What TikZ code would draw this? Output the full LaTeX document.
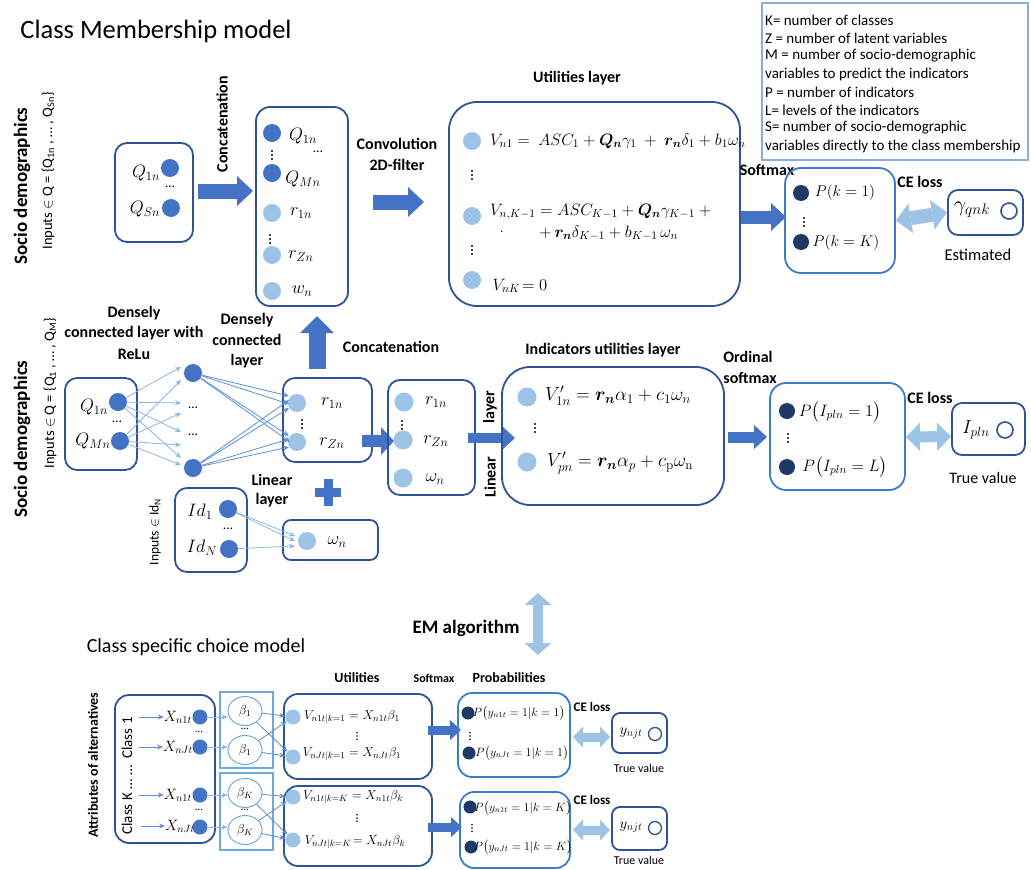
\RequirePackage{fix-cm}
\documentclass[tikz,border=0pt]{standalone}
\usepackage{amsmath}
\usepackage{bm}
\usepackage[no-math]{fontspec}
\setmainfont{Carlito}
\usetikzlibrary{arrows.meta,shapes.geometric}
\definecolor{boxc}{HTML}{2F5496}
\definecolor{probc}{HTML}{3D7CC9}
\definecolor{blockc}{HTML}{4472C4}
\definecolor{dotdark}{HTML}{4472C4}
\definecolor{dotlight}{HTML}{9DC3E6}
\definecolor{dotnavy}{HTML}{1F3864}
\definecolor{dblc}{HTML}{9DC3E6}
\definecolor{legc}{HTML}{8FAADC}
\definecolor{betac}{HTML}{6FA8DC}
\definecolor{lightarr}{HTML}{8DB6E2}
\definecolor{medarr}{HTML}{5B8FD6}
\newcommand{\fsz}[1]{\fontsize{#1}{#1}\selectfont}
\begin{document}
\begin{tikzpicture}[x=1pt,y=-1pt,
 box/.style={draw=boxc,line width=1.8pt,rounded corners=12pt,inner sep=0pt},
 bigbox/.style={box,rounded corners=28pt},
 pbox/.style={draw=probc,line width=1.8pt,rounded corners=16pt,inner sep=0pt},
 ddot/.style={circle,fill=dotdark,minimum size=18pt,inner sep=0pt},
 ldot/.style={circle,fill=dotlight,minimum size=18pt,inner sep=0pt},
 ndot/.style={circle,fill=dotnavy,minimum size=16pt,inner sep=0pt},
 odot/.style={circle,draw=boxc,line width=1.6pt,fill=white,minimum size=16pt,inner sep=0pt},
 mlab/.style={inner sep=0pt,font=\fsz{18}},
 lab/.style={inner sep=0pt,font=\fsz{16}\bfseries,align=center},
 txt/.style={inner sep=0pt,font=\fsz{13.5}},
 legt/.style={inner sep=0pt,font=\fsz{15},anchor=west},
 blk/.style n args={3}{draw=blockc,line width=#1,-{Triangle[length=#2,width=#3,line width=0pt]}},
 dbl/.style n args={3}{draw=dblc,line width=#1,{Triangle[length=#2,width=#3,line width=0pt]}-{Triangle[length=#2,width=#3,line width=0pt]}},
 thinl/.style={draw=lightarr,line width=0.8pt,-{Stealth[length=6pt,width=5pt]}},
 thinm/.style={draw=medarr,line width=0.8pt,-{Stealth[length=6pt,width=5pt]}},
 vdts/.pic={\fill (0,-4) circle (1.1pt) (0,0) circle (1.1pt) (0,4) circle (1.1pt);}
]
\useasboundingbox[fill=white] (0,0) rectangle (1031,870);

% ---------------- title and legend
\node[inner sep=0pt,font=\fsz{26.5}] (title) at (156,31) {Class Membership model};
\node[draw=legc,line width=1.5pt,minimum width=266pt,minimum height=157pt,inner sep=0pt] (leg) at (895,81.5) {};
\node[legt] at (765,20) {K= number of classes};
\node[legt] at (765,38) {Z = number of latent variables};
\node[legt] at (765,56) {M = number of socio-demographic};
\node[legt] at (765,74) {variables to predict the indicators};
\node[legt] at (765,92) {P = number of indicators};
\node[legt] at (765,110) {L= levels of the indicators};
\node[legt] at (765,128) {S= number of socio-demographic};
\node[legt] at (765,146) {variables directly to the class membership};

% ---------------- row 1
\node[lab,rotate=90,font=\fsz{19}\bfseries] at (22,186) {Socio demographics};
\node[txt,rotate=90,font=\fsz{14.5}] at (48,171) {Inputs $\in$ Q = \{Q\textsubscript{1n} ,\ … ,\ Q\textsubscript{Sn}\}};
\node[box,minimum width=78pt,minimum height=99pt] (qbox) at (154,192.5) {};
\node[mlab] (q1t) at (146,173) {$Q_{1n}$};
\node[ddot] (q1d) at (170,168) {};
\node[txt] at (170,187) {…};
\node[mlab] (qst) at (145,209) {$Q_{Sn}$};
\node[ddot] (qsd) at (171,208) {};
\node[lab,rotate=90] at (222,124) {Concatenation};
\coordinate (a1s) at (198,191);
\coordinate (a1e) at (253,191);
\draw[blk={15pt}{16pt}{30pt}] (a1s) -- (a1e);

\node[box,minimum width=92pt,minimum height=199pt,rounded corners=14pt] (cbox) at (302,206.5) {};
\node[ddot] (c1) at (272,133) {};
\node[mlab] at (303,136) {$Q_{1n}$};
\node[txt] at (318,152) {…};
\pic at (272,155) {vdts};
\node[ddot] (c2) at (272,173) {};
\node[mlab] at (303,179) {$Q_{Mn}$};
\node[ldot] (c3) at (272,213) {};
\node[mlab] at (301,213) {$r_{1n}$};
\pic at (270,239) {vdts};
\node[ldot] (c4) at (272,255) {};
\node[mlab] at (301,256) {$r_{Zn}$};
\node[ldot] (c5) at (272,291) {};
\node[mlab] at (302,291) {$w_n$};

\node[lab] at (397,144) {Convolution};
\node[lab] at (397,165) {2D-filter};
\coordinate (a2s) at (373,202);
\coordinate (a2e) at (424,202);
\draw[blk={15pt}{16pt}{30pt}] (a2s) -- (a2e);

\node[lab] at (577,78) {Utilities layer};
\node[bigbox,minimum width=291pt,minimum height=204pt] (ubox) at (594.5,204) {};
\node[ldot] (u1) at (472,141) {};
\node[mlab,anchor=west,font=\fsz{16.5}] at (490,141) {$V_{n1} =\ ASC_1 + \bm{Q_n}\gamma_1\ +\ \bm{r_n}\delta_1 + b_1\omega_n$};
\pic at (472,175) {vdts};
\node[ldot] (u2) at (472,216) {};
\node[mlab,anchor=west,font=\fsz{16.5}] at (490,212) {$V_{n,K-1} = ASC_{K-1} + \bm{Q_n}\gamma_{K-1}\ +$};
\node[mlab,font=\fsz{12}] at (502,232) {.};
\node[mlab,anchor=west,font=\fsz{16.5}] at (539,233) {$+\,\bm{r_n}\delta_{K-1} + b_{K-1}\,\omega_n$};
\pic at (472,250) {vdts};
\node[ldot] (u3) at (472,280) {};
\node[mlab,font=\fsz{16.5}] at (520,286) {$V_{nK}\!= 0$};

\node[lab] at (767,170) {Softmax};
\coordinate (a3s) at (741,217);
\coordinate (a3e) at (786,217);
\draw[blk={13pt}{15pt}{28pt}] (a3s) -- (a3e);
\node[pbox,minimum width=110pt,minimum height=105pt] (pbox1) at (840,220.5) {};
\node[ndot] (p1) at (801,193) {};
\node[mlab,font=\fsz{15.5}] at (845,193) {$P(k = 1)$};
\pic at (804,222) {vdts};
\node[ndot] (p2) at (801,242) {};
\node[mlab,font=\fsz{15.5}] at (846,243) {$P(k = K)$};
\node[lab] at (920,182) {CE loss};
\node[box,minimum width=75pt,minimum height=45pt,rounded corners=10pt] (ebox) at (985.5,212.5) {};
\draw[dbl={14pt}{15pt}{30pt}] (pbox1.east) -- (ebox.west);
\node[mlab,font=\fsz{22}] at (972,210) {$\gamma_{qnk}$};
\node[odot] (eo) at (1009,211) {};
\node[inner sep=0pt,font=\fsz{16.5}] at (978,255) {Estimated};

% ---------------- row 2
\node[lab,rotate=90,font=\fsz{19}\bfseries] at (22,439) {Socio demographics};
\node[txt,rotate=90,font=\fsz{14.5}] at (50,393) {Inputs $\in$ Q = \{Q\textsubscript{1} ,\ … ,\ Q\textsubscript{M}\}};
\node[lab] at (134,313) {Densely};
\node[lab] at (134,333) {connected layer with};
\node[lab] at (134,354) {ReLu};
\node[lab] at (247,320) {Densely};
\node[lab] at (247,340) {connected};
\node[lab] at (247,361) {layer};

\node[box,minimum width=72pt,minimum height=92pt] (q2box) at (101,424) {};
\node[mlab] at (94,407) {$Q_{1n}$};
\node[ddot] (q21d) at (118,402) {};
\node[txt] at (117,422) {…};
\node[mlab] at (93,441) {$Q_{Mn}$};
\node[ddot] (q2md) at (120,441) {};

\node[ddot] (h1) at (193,373) {};
\node[txt] (h2) at (193,408) {…};
\node[txt] (h3) at (193,435) {…};
\node[ddot] (h4) at (193,468) {};

\coordinate (t1) at (181,367);
\coordinate (t2) at (181,380);
\coordinate (t3) at (181,403);
\coordinate (t4) at (181,413);
\coordinate (t5) at (181,432);
\coordinate (t6) at (181,445);
\coordinate (t7) at (181,458);
\coordinate (t8) at (181,465);
\draw[thinl] (q21d) -- (t1);
\draw[thinl] (q21d) -- (t3);
\draw[thinl] (q21d) -- (t5);
\draw[thinl] (q21d) -- (t7);
\draw[thinl] (q2md) -- (t2);
\draw[thinl] (q2md) -- (t4);
\draw[thinl] (q2md) -- (t6);
\draw[thinl] (q2md) -- (t8);

\node[box,minimum width=89pt,minimum height=84pt] (rbox) at (327.5,420) {};
\node[ldot] (r1d) at (297,403) {};
\node[mlab] at (332,403) {$r_{1n}$};
\pic at (302,424) {vdts};
\node[ldot] (rzd) at (297,442) {};
\node[mlab] at (332,443) {$r_{Zn}$};

\coordinate (s1) at (289,396);
\coordinate (s2) at (289,404);
\coordinate (s3) at (289,436);
\coordinate (s4) at (290,442);
\coordinate (s5) at (289,400);
\coordinate (s6) at (289,408);
\coordinate (s7) at (289,439);
\coordinate (s8) at (289,447);
\draw[thinm] (h1) -- (s1);
\draw[thinm] (h1) -- (s2);
\draw[thinm] (h1) -- (s3);
\draw[thinm] (h1) -- (s4);
\draw[thinm] (h4) -- (s5);
\draw[thinm] (h4) -- (s6);
\draw[thinm] (h4) -- (s7);
\draw[thinm] (h4) -- (s8);

\coordinate (a5s) at (317,369);
\coordinate (a5e) at (317,316);
\draw[blk={17pt}{17pt}{34pt}] (a5s) -- (a5e);
\node[lab] at (391,347) {Concatenation};
\fill[blockc] (315,488) rectangle (341,497);
\fill[blockc] (323.5,479) rectangle (332.5,506);
\node[lab] at (272,480) {Linear};
\node[lab] at (272,500) {layer};

\node[txt,rotate=90] at (155,532) {Inputs $\in$ Id\textsubscript{N}};
\node[box,minimum width=72pt,minimum height=84pt] (idbox) at (211,530) {};
\node[mlab] at (200,512) {$Id_1$};
\node[ddot] (id1d) at (228,509) {};
\node[txt] at (228,529) {…};
\node[mlab] at (202,548) {$Id_N$};
\node[ddot] (idnd) at (229,549) {};

\node[box,minimum width=95pt,minimum height=40pt,rounded corners=8pt] (wbox) at (330.5,540) {};
\node[ldot] (wd) at (307,541) {};
\node[mlab] at (337,542) {$\omega_n$};
\coordinate (w1) at (295,536);
\coordinate (w2) at (295,541);
\coordinate (w3) at (295,546);
\draw[thinl] (id1d) -- (w1);
\draw[thinl] (id1d) -- (w2);
\draw[thinl] (idnd) -- (w3);

\coordinate (a6s) at (362,441);
\coordinate (a6e) at (394,441);
\draw[blk={12pt}{13pt}{28pt}] (a6s) -- (a6e);

\node[box,minimum width=87pt,minimum height=115pt] (c2box) at (431.5,437.5) {};
\node[ldot,minimum size=19pt] (c2r1) at (404,402) {};
\node[mlab] at (436,402) {$r_{1n}$};
\pic at (402,425) {vdts};
\node[ldot,minimum size=19pt] (c2rz) at (403,440) {};
\node[mlab] at (436,441) {$r_{Zn}$};
\node[ldot,minimum size=19pt] (c2w) at (403,478) {};
\node[mlab] at (435,479) {$\omega_n$};

\node[lab,rotate=90] at (490,407) {layer};
\node[lab,rotate=90] at (490,477) {Linear};
\coordinate (a7s) at (468,438);
\coordinate (a7e) at (515,438);
\draw[blk={10pt}{12pt}{22pt}] (a7s) -- (a7e);

\node[lab] at (603,350) {Indicators utilities layer};
\node[bigbox,minimum width=222pt,minimum height=138pt] (ibox) at (613,436) {};
\node[ldot,minimum size=19pt] (i1d) at (527,397) {};
\node[mlab,anchor=west,font=\fsz{19}] at (545,396) {$V'_{1n} = \bm{r_n}\alpha_1 + c_1\omega_n$};
\pic at (535,428) {vdts};
\node[ldot,minimum size=19pt] (i2d) at (527,462) {};
\node[mlab,anchor=west,font=\fsz{19}] at (547,463) {$V'_{pn} = \bm{r_n}\alpha_p + c_{\mathrm{p}}\omega_{\mathrm{n}}$};

\node[lab] at (748,357) {Ordinal};
\node[lab] at (750,378) {softmax};
\coordinate (a8s) at (728,437);
\coordinate (a8e) at (767,437);
\draw[blk={11pt}{13pt}{24pt}] (a8s) -- (a8e);
\node[pbox,minimum width=135pt,minimum height=107pt] (pbox2) at (837.5,436.5) {};
\node[ndot] (pp1) at (787,411) {};
\node[mlab,font=\fsz{16.5}] at (840,412) {$P\big(I_{pln} = 1\big)$};
\pic at (788,438) {vdts};
\node[ndot] (pp2) at (787,467) {};
\node[mlab,font=\fsz{16.5}] at (845,467) {$P\big(I_{pln} = L\big)$};
\node[lab] at (930,398) {CE loss};
\node[box,minimum width=73pt,minimum height=52pt,rounded corners=10pt] (tbox) at (988.5,429) {};
\draw[dbl={11pt}{14pt}{28pt}] ([yshift=-0.5pt]pbox2.east) -- (tbox.west |- pbox2.east);
\node[mlab,font=\fsz{19}] at (976,430) {$I_{pln}$};
\node[odot] (to) at (1005,430) {};
\node[inner sep=0pt,font=\fsz{16}] at (983,478) {True value};

% ---------------- EM
\node[lab,font=\fsz{19}\bfseries] at (466,628) {EM algorithm};
\coordinate (emt) at (538,593);
\coordinate (emb) at (538,655);
\draw[dbl={10pt}{12pt}{27pt}] (emt) -- (emb);

% ---------------- bottom
\node[inner sep=0pt,font=\fsz{20}] at (196,647) {Class specific choice model};
\node[lab,rotate=90,font=\fsz{14}\bfseries] at (93,765) {Attributes of alternatives};
\node[box,minimum width=100pt,minimum height=148pt,rounded corners=14pt] (xbox) at (165,769) {};
\node[inner sep=0pt,rotate=90,font=\fsz{15}] at (127,738) {Class 1};
\node[inner sep=0pt,rotate=90,font=\fsz{15}] at (127,800) {Class K … …};

\node[mlab,font=\fsz{15}] (x1t) at (178,717) {$X_{n1t}$};
\node[mlab,font=\fsz{15}] (x2t) at (178,747) {$X_{nJt}$};
\node[mlab,font=\fsz{15}] (x3t) at (178,795) {$X_{n1t}$};
\node[mlab,font=\fsz{15}] (x4t) at (180,826) {$X_{nJt}$};
\coordinate (xs1) at (139,717);
\coordinate (xs2) at (139,747);
\coordinate (xs3) at (139,795);
\coordinate (xs4) at (141,826);
\draw[thinm] (xs1) -- (x1t.west);
\draw[thinm] (xs2) -- (x2t.west);
\draw[thinm] (xs3) -- (x3t.west);
\draw[thinm] (xs4) -- (x4t.west);
\node[ddot,minimum size=15pt] (xd1) at (200,717) {};
\node[ddot,minimum size=15pt] (xd2) at (200,747) {};
\node[ddot,minimum size=15pt] (xd3) at (200,795) {};
\node[ddot,minimum size=15pt] (xd4) at (200,827) {};
\node[txt,font=\fsz{11}] at (199,732) {…};
\node[txt,font=\fsz{11}] at (199,810) {…};

\node[draw=betac,line width=1.5pt,minimum width=53pt,minimum height=76pt,inner sep=0pt] (bb1) at (246.5,730) {};
\node[draw=betac,line width=1.5pt,minimum width=53pt,minimum height=77pt,inner sep=0pt] (bb2) at (246.5,811.5) {};
\node[ellipse,draw=betac,line width=1pt,minimum width=34pt,minimum height=29pt,inner sep=0pt,font=\fsz{13}] (b1a) at (245,711) {$\beta_1$};
\node[ellipse,draw=betac,line width=1pt,minimum width=34pt,minimum height=29pt,inner sep=0pt,font=\fsz{13}] (b1b) at (245,750) {$\beta_1$};
\node[ellipse,draw=betac,line width=1pt,minimum width=34pt,minimum height=29pt,inner sep=0pt,font=\fsz{13}] (bka) at (245,793) {$\beta_K$};
\node[ellipse,draw=betac,line width=1pt,minimum width=34pt,minimum height=29pt,inner sep=0pt,font=\fsz{13}] (bkb) at (245,830) {$\beta_K$};
\node[txt,font=\fsz{11}] at (245,729) {…};
\node[txt,font=\fsz{11}] at (245,810) {…};
\draw[thinl] (xd1) -- (b1a.west |- xd1);
\draw[thinl] (xd2) -- (b1b.west |- xd2);
\draw[thinl] (xd3) -- (bka.west |- xd3);
\draw[thinl] (xd4) -- (bkb.west |- xd4);

\node[lab,font=\fsz{14}\bfseries] at (357,678) {Utilities};
\node[lab,font=\fsz{12}\bfseries] at (434,678) {Softmax};
\node[lab,font=\fsz{14}\bfseries] at (509,678) {Probabilities};

\node[box,minimum width=148pt,minimum height=85pt,rounded corners=14pt] (ub1) at (358,736.5) {};
\node[ldot,minimum size=15pt] (v1d) at (293,717) {};
\node[ldot,minimum size=15pt] (v2d) at (293,757) {};
\node[mlab,font=\fsz{13}] at (352,717) {$V_{n1t|k=1} = X_{n1t}\beta_1$};
\pic[scale=0.8] at (357,736) {vdts};
\node[mlab,font=\fsz{13}] at (352,754) {$V_{nJt|k=1} = X_{nJt}\beta_1$};
\node[box,minimum width=148pt,minimum height=80pt,rounded corners=14pt] (ub2) at (358,826) {};
\node[ldot,minimum size=15pt] (v3d) at (293,797) {};
\node[ldot,minimum size=15pt] (v4d) at (293,840) {};
\node[mlab,font=\fsz{13}] at (353,797) {$V_{n1t|k=K} = X_{n1t}\beta_k$};
\pic[scale=0.8] at (357,818) {vdts};
\node[mlab,font=\fsz{13}] at (355,842) {$V_{nJt|k=K}\!= X_{nJt}\beta_k$};

\draw[thinm] (b1a) -- (v1d);
\draw[thinm] (b1a) -- (v2d);
\draw[thinm] (b1b) -- (v1d);
\draw[thinm] (b1b) -- (v2d);
\draw[thinm] (bka) -- (v3d);
\draw[thinm] (bka) -- (v4d);
\draw[thinm] (bkb) -- (v3d);
\draw[thinm] (bkb) -- (v4d);

\coordinate (a9s) at (428,730);
\coordinate (a9e) at (461,730);
\draw[blk={9pt}{11pt}{20pt}] (a9s) -- (a9e);
\coordinate (a10s) at (428,827);
\coordinate (a10e) at (462,827);
\draw[blk={9pt}{11pt}{20pt}] (a10s) -- (a10e);

\node[pbox,minimum width=112pt,minimum height=84pt,rounded corners=14pt] (pb1) at (514,735) {};
\node[ndot,minimum size=13pt] (pb1a) at (468,713) {};
\node[mlab,font=\fsz{12}] at (519,713) {$P\big(y_{n1t} = 1|k = 1\big)$};
\pic[scale=0.8] at (470,736) {vdts};
\node[ndot,minimum size=13pt] (pb1b) at (469,753) {};
\node[mlab,font=\fsz{12}] at (522,753) {$P\big(y_{nJt} = 1|k = 1\big)$};
\node[pbox,minimum width=110pt,minimum height=76pt,rounded corners=14pt] (pb2) at (515,830) {};
\node[ndot,minimum size=13pt] (pb2a) at (470,807) {};
\node[mlab,font=\fsz{12}] at (523,808) {$P\big(y_{n1t} = 1|k = K\big)$};
\pic[scale=0.8] at (472,828) {vdts};
\node[ndot,minimum size=13pt] (pb2b) at (471,847) {};
\node[mlab,font=\fsz{12}] at (523,847) {$P\big(y_{nJt} = 1|k = K\big)$};

\node[lab,font=\fsz{13}\bfseries] at (592,707) {CE loss};
\node[lab,font=\fsz{13}\bfseries] at (592,800) {CE loss};
\node[box,minimum width=55pt,minimum height=40pt,rounded corners=8pt] (tb1) at (639.5,733) {};
\node[box,minimum width=55pt,minimum height=43pt,rounded corners=8pt] (tb2) at (639.5,828.5) {};
\coordinate (d1s) at (573,737);
\coordinate (d1e) at (610,737);
\draw[dbl={9pt}{10pt}{21pt}] (d1s) -- (d1e);
\coordinate (d2s) at (573,830);
\coordinate (d2e) at (610,830);
\draw[dbl={9pt}{10pt}{21pt}] (d2s) -- (d2e);
\node[mlab,font=\fsz{15}] at (631,733) {$y_{njt}$};
\node[odot,minimum size=13pt,line width=1.3pt] (to1) at (655,734) {};
\node[mlab,font=\fsz{15}] at (631,827) {$y_{njt}$};
\node[odot,minimum size=13pt,line width=1.3pt] (to2) at (655,828) {};
\node[inner sep=0pt,font=\fsz{12}] at (639,768) {True value};
\node[inner sep=0pt,font=\fsz{12}] at (639,860) {True value};
\end{tikzpicture}
\end{document}
